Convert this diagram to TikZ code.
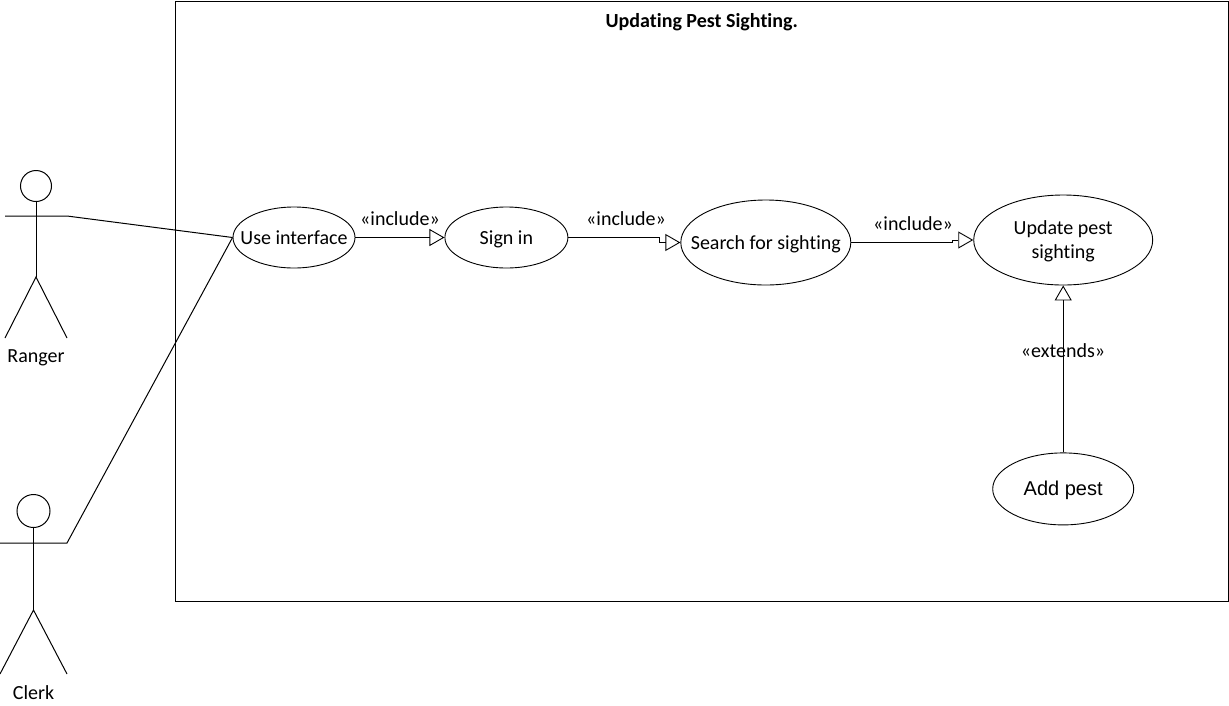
\documentclass[tikz,border=0pt]{standalone}
\usepackage{fontspec}
\setmainfont{Carlito}[Ligatures=NoCommon]
\newfontfamily\arialfont{Liberation Sans}
\usetikzlibrary{positioning, shapes.geometric, arrows.meta}

\begin{document}
\begin{tikzpicture}[
    x=1pt, y=-1pt,
    line width=1pt,
    % Styles
    usecase/.style={ % Use case ellipse
        ellipse,
        draw,
        line width=0.9pt,
        inner xsep=-30pt,
        inner ysep=-20pt,
        align=center,
        font=\fontsize{20}{24}\selectfont
    },
    oneline/.style={ % Keeps the baseline steady with or without descenders
        text height=13pt,
        text depth=0pt
    },
    head/.style={ % Head of an actor
        circle,
        draw,
        inner sep=0pt
    },
    label/.style={
        inner sep=0pt,
        oneline,
        font=\fontsize{20}{24}\selectfont
    },
    arrow/.style={
        -{Triangle[open, length=15pt, width=17pt, line width=0.9pt]}
    }
]
    \useasboundingbox (0,0) rectangle (1229,705);

    % System boundary
    \node[draw, minimum width=1052.5pt, minimum height=600pt, inner sep=0pt] (system) at (701.75,301) {};
    \node[label, font=\fontsize{20}{24}\selectfont\bfseries] (title) [below=13pt of system.north] {Updating Pest Sighting.};

    % Use cases
    \node[usecase, oneline, minimum width=122pt, minimum height=61pt] (useif) at (294,237.5) {Use interface};
    \node[usecase, oneline, minimum width=123pt, minimum height=61pt] (signin) [right=89pt of useif] {Sign in};
    \node[usecase, oneline, minimum width=170pt, minimum height=85pt] (search) [right=114pt of signin, yshift=-5pt, xshift=-2pt] {Search for sighting};
    \node[usecase, text depth=1pt, minimum width=179pt, minimum height=90pt] (update) [right=122pt of search, yshift=2.5pt] {Update pest\\sighting};
    \node[usecase, oneline, minimum width=141pt, minimum height=72pt, font=\arialfont\fontsize{20}{24}\selectfont] (addpest) [below=167pt of update] {Add pest};

    % Ranger
    \node[head, minimum size=31pt] (rangerhead) at (36,186) {};
    \coordinate (rangerhip) at (36,277);
    \coordinate (rangerarm) at (5,216);
    \coordinate (rangerhand) at (67,216);
    \coordinate (rangerlegl) at (5,338);
    \coordinate (rangerlegr) at (67,338);
    \draw (rangerhead.south) -- (rangerhip);
    \draw (rangerlegl) -- (rangerhip) -- (rangerlegr);
    \node[label] (ranger) at (36,356) {Ranger};

    % Clerk
    \node[head, minimum size=33pt] (clerkhead) at (33.5,511) {};
    \coordinate (clerkhip) at (33.5,610);
    \coordinate (clerkarm) at (0,543);
    \coordinate (clerkhand) at (67,543);
    \coordinate (clerklegl) at (0,674);
    \coordinate (clerklegr) at (67,674);
    \draw (clerkhead.south) -- (clerkhip);
    \draw (clerklegl) -- (clerkhip) -- (clerklegr);
    \node[label] (clerk) at (33.5,693) {Clerk};

    % Connectors
    \draw (rangerarm) -- (rangerhand) -- (useif.west);
    \draw (clerkarm) -- (clerkhand) -- (useif.west);
    \draw[arrow] (useif) -- (signin);
    \draw[arrow] (signin.east) -- ++(91,0) |- (search.west);
    \draw[arrow] (search.east) -- ++(101,0) |- (update.west);
    \draw[arrow] (addpest) -- (update);

    % Stereotypes
    \node[label] (inc1) at (400,219) {«include»};
    \node[label] (inc2) at (626,219) {«include»};
    \node[label] (inc3) at (913,224) {«include»};
    \node[label] (ext) at (1063,351) {«extends»};
\end{tikzpicture}
\end{document}
